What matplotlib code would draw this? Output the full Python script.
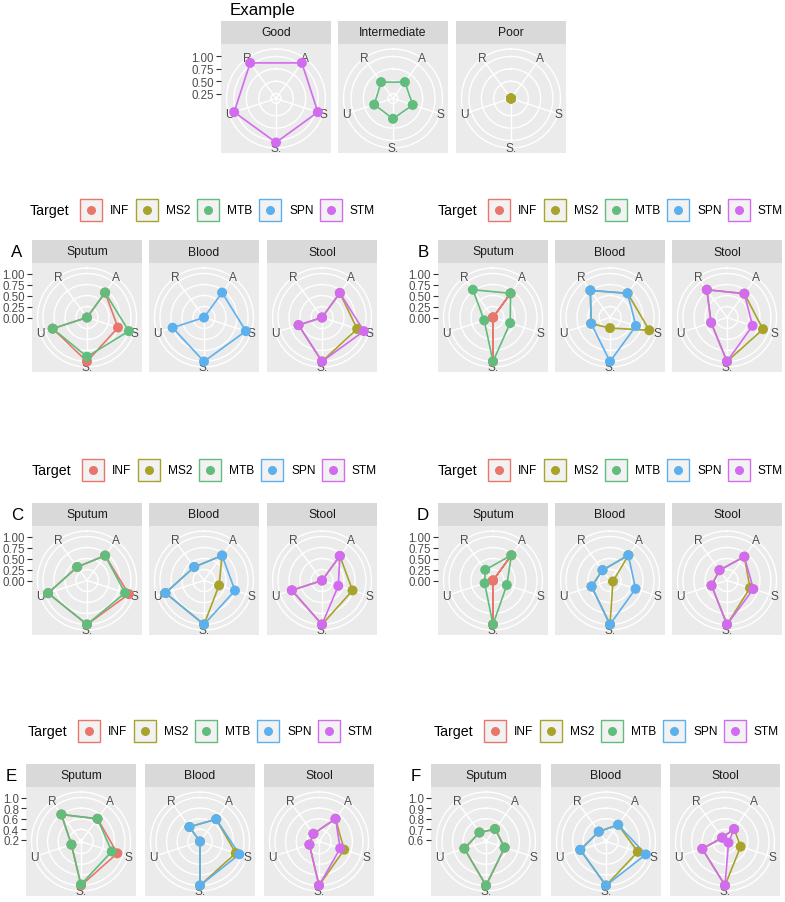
import matplotlib
matplotlib.use("Agg")
import matplotlib.pyplot as plt
import numpy as np
from matplotlib.patches import Rectangle
from matplotlib.lines import Line2D

plt.rcParams['font.family'] = ['Liberation Sans', 'DejaVu Sans']

W, H = 785, 903

# categories
spokes = ["A", "S", "S.", "U", "R"]
targets = ["INF", "MS2", "MTB", "SPN", "STM"]
target_colors = ["#E8766D", "#A8A32A", "#62BC7C", "#5DB0EE", "#D26BEF"]
samples = ["Sputum", "Blood", "Stool"]
example_levels = ["Good", "Intermediate", "Poor"]

# values per spoke, order A, S, S., U, R
ex_good = {"STM": [1.04, 1.04, 1.04, 1.04, 1.04]}
ex_intermediate = {"MTB": [0.56, 0.57, 0.56, 0.55, 0.56]}
ex_poor = {"MS2": [0.15, 0.15, 0.15, 0.15, 0.15]}

a_sputum = {"INF": [0.70, 0.74, 1.00, 0.82, 0.00], "MTB": [0.70, 1.00, 0.89, 0.82, 0.00]}
a_blood = {"SPN": [0.70, 1.00, 1.00, 0.75, 0.00]}
a_stool = {"MS2": [0.69, 0.84, 1.00, 0.56, 0.00], "STM": [0.69, 1.00, 1.00, 0.56, 0.00]}

b_sputum = {"INF": [0.68, 0.00, 1.00, 0.00, 0.00], "MTB": [0.68, 0.41, 1.00, 0.21, 0.78]}
b_blood = {"MS2": [0.68, 0.94, 0.24, 0.45, 0.76], "SPN": [0.68, 0.62, 1.00, 0.45, 0.76]}
b_stool = {"MS2": [0.67, 0.86, 1.00, 0.38, 0.78], "STM": [0.67, 0.61, 1.00, 0.38, 0.78]}

c_sputum = {"INF": [0.70, 1.00, 1.00, 0.93, 0.38], "MTB": [0.70, 0.91, 1.00, 0.93, 0.38]}
c_blood = {"MS2": [0.70, 0.36, 1.00, 0.92, 0.38], "SPN": [0.70, 0.74, 1.00, 0.92, 0.38]}
c_stool = {"MS2": [0.69, 0.73, 1.00, 0.72, 0.00], "STM": [0.69, 0.39, 1.00, 0.72, 0.00]}

d_sputum = {"INF": [0.71, 0.00, 1.00, 0.00, 0.00], "MTB": [0.71, 0.33, 1.00, 0.20, 0.30]}
d_blood = {"MS2": [0.71, 0.07, 1.00, 0.44, 0.29], "SPN": [0.71, 0.61, 1.00, 0.44, 0.29]}
d_stool = {"MS2": [0.67, 0.55, 1.00, 0.37, 0.29], "STM": [0.67, 0.63, 1.00, 0.37, 0.29]}

e_sputum = {"INF": [0.70, 0.89, 1.00, 0.36, 0.80], "MTB": [0.70, 0.78, 0.98, 0.36, 0.80]}
e_blood = {"MS2": [0.69, 0.88, 1.00, 0.17, 0.51], "SPN": [0.69, 0.95, 1.00, 0.17, 0.51]}
e_stool = {"MS2": [0.70, 0.67, 1.00, 0.36, 0.35], "STM": [0.70, 0.59, 1.00, 0.36, 0.35]}

f_sputum = {"INF": [0.73, 0.77, 1.00, 0.80, 0.69], "MTB": [0.73, 0.77, 1.00, 0.80, 0.69]}
f_blood = {"MS2": [0.78, 0.90, 1.00, 0.84, 0.70], "SPN": [0.78, 0.98, 1.00, 0.84, 0.70]}
f_stool = {"MS2": [0.73, 0.74, 1.00, 0.81, 0.63], "STM": [0.73, 0.62, 1.00, 0.81, 0.63]}

# radial scale per group
lim_example = (0.15, 1.04)
lim_ad = (0.0, 1.0)
lim_e = (0.17, 1.0)
lim_f = (0.585, 1.0)
ticks_example = [0.25, 0.50, 0.75, 1.00]
ticks_ad = [0.00, 0.25, 0.50, 0.75, 1.00]
ticks_e = [0.2, 0.4, 0.6, 0.8, 1.0]
ticks_f = [0.6, 0.7, 0.8, 0.9, 1.0]

theta = np.deg2rad([36, 108, 180, 252, 324])
PW, PH, SH = 110, 109, 23

fig = plt.figure(figsize=(W / 100, H / 100), dpi=100)


def px_axes(left, top, w, h):
    return fig.add_axes([left / W, 1 - (top + h) / H, w / W, h / H])


def to_r(v, lim):
    return 0.4 * (np.asarray(v, dtype=float) - lim[0]) / (lim[1] - lim[0])


def radar_panel(left, top, title, series, lim, ticks, fmt, show_axis):
    strip = px_axes(left, top - SH, PW, SH)
    strip.set_facecolor('#D9D9D9')
    strip.set_xticks([])
    strip.set_yticks([])
    for s in strip.spines.values():
        s.set_visible(False)
    strip.text(0.5, 0.5, title, ha='center', va='center', fontsize=8.7,
               color='#1A1A1A', transform=strip.transAxes)

    ax = px_axes(left, top, PW, PH)
    ax.set_facecolor('#EBEBEB')
    ax.set_xlim(-0.5, 0.5)
    ax.set_ylim(-0.5 * PH / PW, 0.5 * PH / PW)
    for s in ax.spines.values():
        s.set_visible(False)
    ax.set_xticks([])

    # grid circles at breaks plus outer ring
    tf = np.linspace(0, 2 * np.pi, 200)
    rings = [r for r in to_r(ticks, lim) if r > 0.001] + [0.45]
    for rr in rings:
        ax.plot(rr * np.sin(tf), rr * np.cos(tf), color='white', lw=1.0, zorder=1)
    for t in theta:
        ax.plot([0, 0.45 * np.sin(t)], [0, 0.45 * np.cos(t)], color='white', lw=1.0, zorder=1)
    for t, lab in zip(theta, spokes):
        ax.text(0.45 * np.sin(t), 0.45 * np.cos(t), lab, ha='center', va='center',
                fontsize=8.6, color='#4D4D4D', zorder=2)

    present = [t for t in targets if t in series]
    for name in present:
        col = target_colors[targets.index(name)]
        r = to_r(series[name], lim)
        x = np.append(r * np.sin(theta), r[0] * np.sin(theta[0]))
        y = np.append(r * np.cos(theta), r[0] * np.cos(theta[0]))
        ax.plot(x, y, color=col, lw=1.2, zorder=3)
    for name in present:
        col = target_colors[targets.index(name)]
        r = to_r(series[name], lim)
        ax.scatter(r * np.sin(theta), r * np.cos(theta), s=52, color=col,
                   edgecolors='none', zorder=4)

    if show_axis:
        ax.set_yticks(to_r(ticks, lim))
        ax.set_yticklabels([fmt.format(v) for v in ticks])
        ax.tick_params(axis='y', length=3.5, width=0.8, color='#333333',
                       labelsize=8.3, labelcolor='#4D4D4D', pad=1.5)
    else:
        ax.set_yticks([])
    return ax


def draw_legend(x0, yc):
    fig.text(x0 / W, 1 - yc / H, "Target", fontsize=10.2, ha='left', va='center')
    key_offsets = [50, 106, 167, 229, 290]
    for off, name, col in zip(key_offsets, targets, target_colors):
        bx = x0 + off
        fig.add_artist(Rectangle((bx / W, 1 - (yc + 11) / H), 22 / W, 22 / H,
                                 transform=fig.transFigure, facecolor='#F2F2F2',
                                 edgecolor=col, lw=1.0))
        fig.add_artist(Line2D([(bx + 11) / W], [1 - yc / H], marker='o', ms=6.5,
                              color=col, mec='none', transform=fig.transFigure))
        fig.text((bx + 30) / W, 1 - yc / H, name, fontsize=8.6, ha='left', va='center')


def radar_group(letter, lefts, top, legend_x, legend_y, panels, lim, ticks, fmt):
    draw_legend(legend_x, legend_y)
    fig.text((lefts[0] - 15) / W, 1 - (top - SH / 2) / H, letter, fontsize=12.2,
             ha='center', va='center')
    for i, (name, data) in enumerate(zip(samples, panels)):
        radar_panel(lefts[i], top, name, data, lim, ticks, fmt, i == 0)


# Example row
fig.text(230 / W, 1 - 11 / H, "Example", fontsize=12.2, ha='left', va='center')
for i, (lvl, data) in enumerate(zip(example_levels, [ex_good, ex_intermediate, ex_poor])):
    radar_panel([221, 338, 456][i], 45, lvl, data, lim_example, ticks_example, "{:.2f}", i == 0)

left_cols = [32, 149, 267]
right_cols = [438, 555, 672]

radar_group("A", left_cols, 264, 30, 211, [a_sputum, a_blood, a_stool], lim_ad, ticks_ad, "{:.2f}")
radar_group("B", right_cols, 264, 438, 211, [b_sputum, b_blood, b_stool], lim_ad, ticks_ad, "{:.2f}")
radar_group("C", left_cols, 527, 32, 471, [c_sputum, c_blood, c_stool], lim_ad, ticks_ad, "{:.2f}")
radar_group("D", right_cols, 527, 438, 471, [d_sputum, d_blood, d_stool], lim_ad, ticks_ad, "{:.2f}")
radar_group("E", [26, 145, 264], 788, 28, 732, [e_sputum, e_blood, e_stool], lim_e, ticks_e, "{:.1f}")
radar_group("F", [431, 551, 670], 788, 434, 732, [f_sputum, f_blood, f_stool], lim_f, ticks_f, "{:.1f}")

fig.savefig("out.png", dpi=100)
